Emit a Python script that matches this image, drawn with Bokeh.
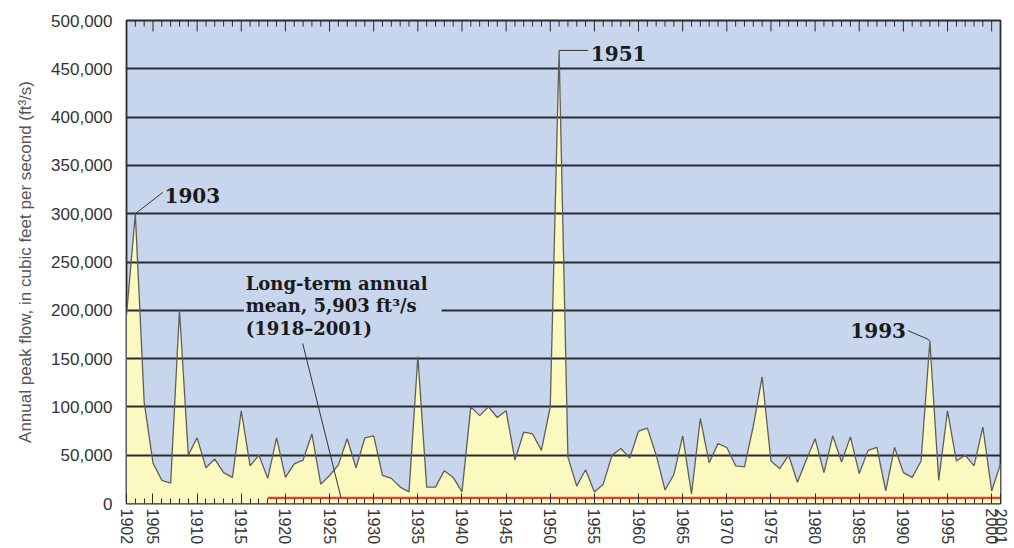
from bokeh.plotting import figure
from bokeh.models import FixedTicker, NumeralTickFormatter, Range1d
from bokeh.core.properties import value
from bokeh.embed import file_html
from bokeh.resources import INLINE

# ---------------- data ----------------
years = list(range(1902, 2002))
peak_flow = [
    195000, 300000, 105000, 42000, 24000, 21000, 200000, 50000, 68000, 37000,   # 1902-1911
    46000, 32000, 27000, 96000, 39000, 50000, 26000, 68000, 27000, 41000,       # 1912-1921
    45000, 72000, 20000, 29000, 40000, 67000, 37000, 68000, 70000, 29000,       # 1922-1931
    26000, 17000, 12000, 152000, 17000, 17000, 34000, 27000, 12000, 100000,     # 1932-1941
    91000, 100000, 89000, 96000, 45000, 74000, 72000, 55000, 100000, 469000,    # 1942-1951
    48000, 18000, 35000, 12000, 20000, 50000, 57000, 47000, 75000, 78000,       # 1952-1961
    50000, 14000, 30000, 70000, 10000, 88000, 42000, 62000, 58000, 39000,       # 1962-1971
    38000, 80000, 131000, 44000, 36000, 50000, 22000, 45000, 67000, 32000,      # 1972-1981
    70000, 43000, 69000, 31000, 55000, 58000, 13000, 58000, 32000, 27000,       # 1982-1991
    44000, 168000, 24000, 96000, 44000, 50000, 39000, 79000, 13000, 41000,      # 1992-2001
]
assert len(peak_flow) == len(years)

mean_flow = 5903
mean_start, mean_end = 1918, 2001

x_tick_labels = [1902] + list(range(1905, 2001, 5)) + [2001]
y_ticks = list(range(0, 500001, 50000))
labelled_peaks = [1903, 1951, 1993]

# ---------------- styling ----------------
BG = "#c7d6ec"
FILL = "#fcf9c0"
DARK = "#2b2b33"
Y_MAX = 500000

p = figure(width=1014, height=548,
           x_range=Range1d(1902, 2001), y_range=Range1d(0, Y_MAX),
           output_backend="svg", toolbar_location=None,
           min_border_left=126, min_border_right=14,
           min_border_top=20, min_border_bottom=45)
p.background_fill_color = BG
p.border_fill_color = "white"
p.outline_line_color = DARK
p.outline_line_width = 1.8

# area + line
p.varea(x=years, y1=[0] * len(years), y2=peak_flow, fill_color=FILL, level="image")
p.line(years, peak_flow, line_color="#5f5f58", line_width=1.3)

# long-term mean
p.line([mean_start, mean_end], [mean_flow, mean_flow], line_color="#ea3f2a", line_width=2.2)

# grid
p.xgrid.grid_line_color = None
p.ygrid.grid_line_color = DARK
p.ygrid.grid_line_width = 1.8
p.ygrid.level = "underlay"

# bottom axis
p.xaxis.ticker = FixedTicker(ticks=x_tick_labels, minor_ticks=years)
p.xaxis.major_label_orientation = "vertical"
p.xaxis.axis_line_color = None
p.xaxis.major_tick_in = 10
p.xaxis.major_tick_out = 0
p.xaxis.minor_tick_in = 5
p.xaxis.minor_tick_out = 0
p.xaxis.major_tick_line_color = DARK
p.xaxis.minor_tick_line_color = DARK
p.xaxis.major_label_standoff = 5
p.xaxis.major_label_text_font = "Liberation Sans"
p.xaxis.major_label_text_font_size = "16px"
p.xaxis.major_label_text_color = "#333333"

# top edge ticks (drawn as short segments hanging from the top of the frame)
px_per_unit = 483.0 / Y_MAX
minor_len = 6 / px_per_unit
major_len = 11 / px_per_unit
tick_len = [major_len if (yr % 5 == 0) else minor_len for yr in years]
p.segment(x0=years, y0=[Y_MAX] * len(years), x1=years,
          y1=[Y_MAX - t for t in tick_len], line_color=DARK, line_width=1)

# left axis
p.yaxis.ticker = FixedTicker(ticks=y_ticks)
p.yaxis.formatter = NumeralTickFormatter(format="0,0")
p.yaxis.axis_line_color = None
p.yaxis.major_tick_in = 0
p.yaxis.major_tick_out = 0
p.yaxis.minor_tick_line_color = None
p.yaxis.major_label_standoff = 14
p.yaxis.major_label_text_font = "Liberation Sans"
p.yaxis.major_label_text_font_size = "17px"
p.yaxis.major_label_text_color = "#333333"
p.yaxis.axis_label = "Annual peak flow, in cubic feet per second (ft³/s)"
p.yaxis.axis_label_text_font = "Liberation Sans"
p.yaxis.axis_label_text_font_style = "normal"
p.yaxis.axis_label_text_font_size = "17px"
p.yaxis.axis_label_text_color = "#555555"
p.yaxis.axis_label_standoff = 13

# mask under the mean annotation (hides the grid line behind text)
p.quad(left=[1915.3], right=[1937.7], bottom=[170000], top=[236000],
       fill_color=BG, line_color=None)

serif = value("DejaVu Serif")
ann_lines = ["Long-term annual",
             f"mean, {mean_flow:,} ft³/s",
             f"({mean_start}–{mean_end})"]
p.text(x=[1915.5] * 3, y=[228000, 204500, 181000], text=ann_lines,
       text_font=serif, text_font_style="bold", text_font_size="18px",
       text_baseline="middle", text_align="left", text_color="#1a1a1a")
p.line([1921.96, 1926.3], [165600, mean_flow], line_color="#333333", line_width=1)

# peak labels
pk = {y: peak_flow[years.index(y)] for y in labelled_peaks}
y03, y51, y93 = labelled_peaks
p.line([y03, y03 + 3.1], [pk[y03], pk[y03] + 22000], line_color="#333333", line_width=1)
p.line([y51, y51 + 3.3], [pk[y51], pk[y51]], line_color="#333333", line_width=1)
p.line([y93 - 2.5, y93 - 0.2, y93], [pk[y93] + 11000, pk[y93] + 2000, pk[y93]],
       line_color="#333333", line_width=1)
p.text(x=[y03 + 3.3, y51 + 3.6], y=[pk[y03] + 19000, pk[y51] - 3000],
       text=[str(y03), str(y51)],
       text_font=serif, text_font_style="bold", text_font_size="20px",
       text_baseline="middle", text_align="left", text_color="#1a1a1a")
p.text(x=[y93 - 2.7], y=[pk[y93] + 11000], text=[str(y93)],
       text_font=serif, text_font_style="bold", text_font_size="20px",
       text_baseline="middle", text_align="right", text_color="#1a1a1a")

open("out.html", "w").write(file_html(p, INLINE))
